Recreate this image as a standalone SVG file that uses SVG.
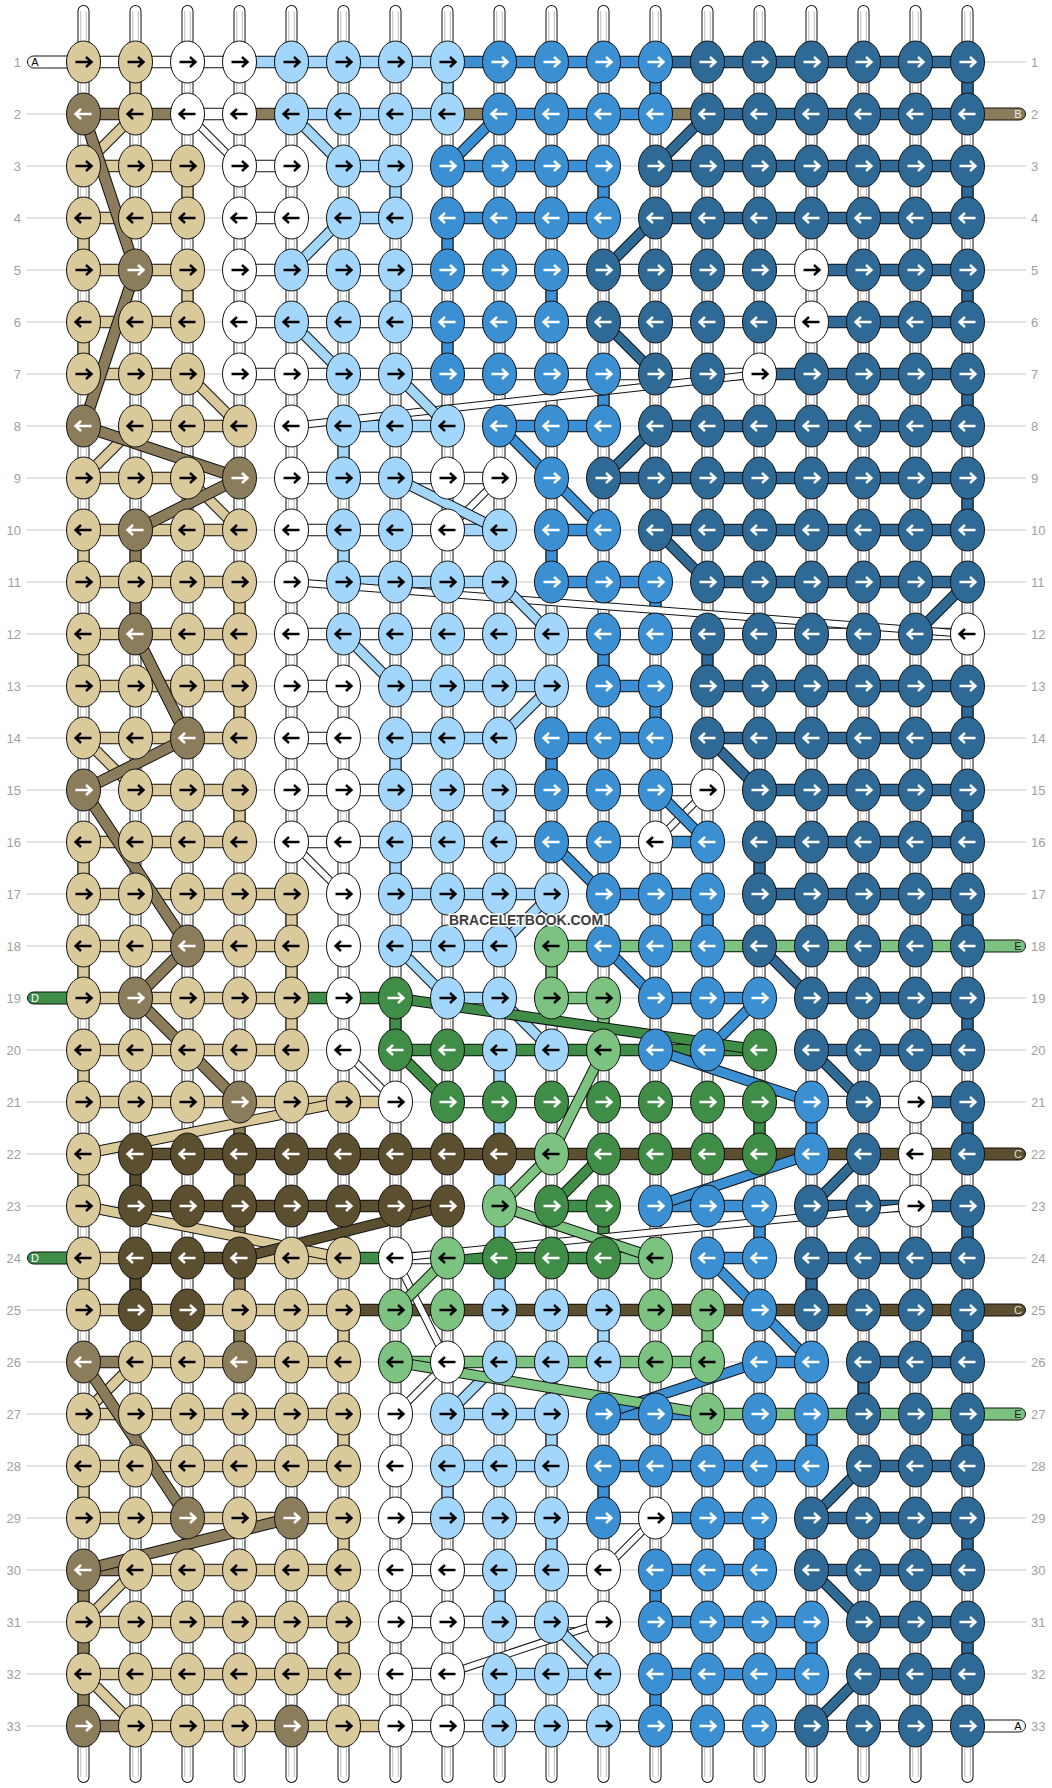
<svg xmlns="http://www.w3.org/2000/svg" xmlns:xlink="http://www.w3.org/1999/xlink" width="1052" height="1788" viewBox="0 0 1052 1788">
<style>
.n{font-family:"Liberation Sans",Arial,sans-serif;font-size:13px;fill:#a0a0a0}
.tl{font-family:"Liberation Sans",Arial,sans-serif;font-size:11px;text-anchor:middle}
ellipse{stroke:#111;stroke-width:1}
.o{fill:none;stroke:#111}
.c{fill:none}
.tail{stroke:#111;stroke-width:1}
</style>
<defs>
<path id="ar" d="M-8 0H7M2.5-5L8 0 2.5 5" fill="none" stroke-width="2.4"/>
<path id="al" d="M8 0H-7M-2.5-5L-8 0-2.5 5" fill="none" stroke-width="2.4"/>
<g id="Tr"><ellipse rx="17" ry="21" fill="#d9c99b"/><use href="#ar" stroke="#000"/></g>
<g id="Tl"><ellipse rx="17" ry="21" fill="#d9c99b"/><use href="#al" stroke="#000"/></g>
<g id="Kr"><ellipse rx="17" ry="21" fill="#8b7d5b"/><use href="#ar" stroke="#fff"/></g>
<g id="Kl"><ellipse rx="17" ry="21" fill="#8b7d5b"/><use href="#al" stroke="#fff"/></g>
<g id="Wr"><ellipse rx="17" ry="21" fill="#fff"/><use href="#ar" stroke="#000"/></g>
<g id="Wl"><ellipse rx="17" ry="21" fill="#fff"/><use href="#al" stroke="#000"/></g>
<g id="Lr"><ellipse rx="17" ry="21" fill="#a3d6fb"/><use href="#ar" stroke="#000"/></g>
<g id="Ll"><ellipse rx="17" ry="21" fill="#a3d6fb"/><use href="#al" stroke="#000"/></g>
<g id="Mr"><ellipse rx="17" ry="21" fill="#3b90d4"/><use href="#ar" stroke="#fff"/></g>
<g id="Ml"><ellipse rx="17" ry="21" fill="#3b90d4"/><use href="#al" stroke="#fff"/></g>
<g id="Dr"><ellipse rx="17" ry="21" fill="#2f6a96"/><use href="#ar" stroke="#fff"/></g>
<g id="Dl"><ellipse rx="17" ry="21" fill="#2f6a96"/><use href="#al" stroke="#fff"/></g>
<g id="Gr"><ellipse rx="17" ry="21" fill="#3f8d46"/><use href="#ar" stroke="#fff"/></g>
<g id="Gl"><ellipse rx="17" ry="21" fill="#3f8d46"/><use href="#al" stroke="#fff"/></g>
<g id="gr"><ellipse rx="17" ry="21" fill="#7cc280"/><use href="#ar" stroke="#000"/></g>
<g id="gl"><ellipse rx="17" ry="21" fill="#7cc280"/><use href="#al" stroke="#000"/></g>
<g id="Br"><ellipse rx="17" ry="21" fill="#5b4f30"/><use href="#ar" stroke="#fff"/></g>
<g id="Bl"><ellipse rx="17" ry="21" fill="#5b4f30"/><use href="#al" stroke="#fff"/></g>
<path id="hT" d="M83.5 166h104M83.5 218h104M83.5 270h104M83.5 322h104M83.5 374h104M135.5 426h104M83.5 478h104M83.5 530h156M83.5 582h156M83.5 634h156M83.5 686h156M83.5 738h156M135.5 790h104M83.5 842h156M83.5 894h208M83.5 946h208M83.5 998h208M83.5 1050h208M83.5 1102h312M83.5 1258h52M239.5 1258h104M83.5 1310h260M135.5 1362h208M83.5 1414h260M83.5 1466h260M83.5 1518h260M135.5 1570h208M83.5 1622h260M83.5 1674h260M135.5 1726h260"/>
<path id="hK" d="M83.5 114h104M239.5 114h52M447.5 114h52M655.5 114h52M83.5 1362h52M83.5 1570h52M83.5 1726h52"/>
<path id="hW" d="M83.5 62h156M187.5 114h52M239.5 166h52M239.5 218h52M239.5 270h572M239.5 322h572M239.5 374h520M291.5 478h208M291.5 530h156M291.5 634h676M291.5 686h52M291.5 738h52M291.5 790h416M291.5 842h364M447.5 1102h468M395.5 1258h52M395.5 1518h260M395.5 1570h208M395.5 1622h208M395.5 1674h52M395.5 1726h572"/>
<path id="hL" d="M239.5 62h208M291.5 114h156M343.5 166h52M343.5 218h52M343.5 426h104M447.5 530h52M343.5 582h156M395.5 686h156M395.5 738h104M395.5 894h156M395.5 946h104M447.5 998h52M447.5 1414h104M447.5 1466h104M499.5 1674h104"/>
<path id="hM" d="M447.5 62h208M499.5 114h156M447.5 166h156M447.5 218h156M499.5 426h104M551.5 530h52M551.5 582h104M603.5 686h52M551.5 738h104M655.5 842h52M603.5 894h104M655.5 998h104M655.5 1206h104M707.5 1258h52M759.5 1362h52M603.5 1414h104M603.5 1466h208M655.5 1518h104M655.5 1570h104M655.5 1622h156M655.5 1674h156"/>
<path id="hD" d="M655.5 62h312M707.5 114h260M655.5 166h312M655.5 218h312M811.5 270h156M811.5 322h156M759.5 374h208M655.5 426h312M603.5 478h364M655.5 530h312M707.5 582h260M707.5 686h260M707.5 738h260M759.5 790h208M759.5 842h208M759.5 894h208M811.5 998h156M811.5 1050h156M915.5 1102h52M811.5 1206h156M811.5 1258h156M863.5 1362h104M863.5 1466h104M811.5 1518h156M811.5 1570h156M863.5 1622h104M863.5 1674h104"/>
<path id="hG" d="M291.5 998h104M395.5 1050h364M551.5 1206h52M343.5 1258h52M447.5 1258h156"/>
<path id="hg" d="M551.5 946h416M551.5 998h52M603.5 1258h52M395.5 1362h312M707.5 1414h260"/>
<path id="hB" d="M135.5 1154h832M135.5 1206h312M135.5 1258h104M343.5 1310h624"/>
<path id="vT" d="M135.5 62v52M187.5 166v52M83.5 218v52M187.5 270v52M83.5 322v52M83.5 530v52M239.5 582v156M83.5 634v52M239.5 790v52M83.5 842v52M291.5 894v156M83.5 946v52M83.5 1050v52M83.5 1154v52M83.5 1258v52M343.5 1310v52M343.5 1414v52M83.5 1466v52M343.5 1518v52M343.5 1622v52"/>
<path id="vK" d="M135.5 530v104M239.5 1102v260M83.5 1570v156"/>
<path id="vL" d="M447.5 62v52M395.5 166v52M395.5 270v52M343.5 426v52M343.5 530v52M395.5 738v52M499.5 790v52M395.5 842v52M499.5 1050v260M603.5 1310v52M551.5 1414v52M447.5 1466v52M551.5 1518v52M499.5 1570v52M499.5 1674v52"/>
<path id="vM" d="M655.5 62v52M603.5 166v52M447.5 218v52M551.5 270v52M447.5 322v52M603.5 374v52M551.5 530v52M655.5 582v52M603.5 634v52M655.5 686v52M551.5 738v52M707.5 894v52M811.5 1102v52M759.5 1206v52M811.5 1414v52M603.5 1466v52M759.5 1518v52M655.5 1570v52M811.5 1622v52M655.5 1674v52"/>
<path id="vD" d="M967.5 62v52M967.5 166v52M967.5 270v52M967.5 374v52M967.5 478v52M967.5 686v52M967.5 790v52M967.5 894v52M967.5 998v52M967.5 1102v52M967.5 1206v52M967.5 1310v52M967.5 1414v52M967.5 1518v52M967.5 1622v52M707.5 634v52M759.5 842v52M811.5 1258v52M863.5 1362v52"/>
<path id="vG" d="M395.5 998v52M759.5 1102v52M603.5 1206v52"/>
<path id="vg" d="M551.5 946v52M603.5 998v52M707.5 1310v52"/>
<path id="vB" d="M135.5 1154v52M135.5 1258v52"/>
<path id="dK" d="M83.5 114L135.5 270L83.5 426L239.5 478L135.5 530M135.5 634L187.5 738L83.5 790L187.5 946L135.5 998L187.5 1050L239.5 1102M83.5 1362L187.5 1518M291.5 1518L83.5 1570"/>
<path id="dT" d="M135.5 114L83.5 166M187.5 374L239.5 426M135.5 426L83.5 478M187.5 478L239.5 530M83.5 738L135.5 790M343.5 1102L83.5 1154M83.5 1206L343.5 1258M135.5 1362L83.5 1414M135.5 1570L83.5 1622M83.5 1674L135.5 1726"/>
<path id="dW" d="M187.5 114L239.5 166M759.5 374L291.5 426M499.5 478L447.5 530M291.5 582L967.5 634M707.5 790L655.5 842M291.5 842L343.5 894M343.5 1050L395.5 1102M915.5 1206L395.5 1258M395.5 1258L447.5 1362M447.5 1362L395.5 1414M655.5 1518L603.5 1570M603.5 1622L447.5 1674"/>
<path id="dL" d="M291.5 114L343.5 166M343.5 218L291.5 270M291.5 322L343.5 374M395.5 374L447.5 426M395.5 478L499.5 530M499.5 582L551.5 634M343.5 634L395.5 686M551.5 686L499.5 738M551.5 894L499.5 946M395.5 946L447.5 998M499.5 998L551.5 1050M499.5 1362L447.5 1414M551.5 1622L603.5 1674"/>
<path id="dM" d="M499.5 114L447.5 166M499.5 426L551.5 478L603.5 530M655.5 790L707.5 842M551.5 842L603.5 894M603.5 946L655.5 998M759.5 998L707.5 1050M655.5 1050L811.5 1102M811.5 1154L655.5 1206M707.5 1258L759.5 1310L811.5 1362M759.5 1362L603.5 1414"/>
<path id="dD" d="M707.5 114L655.5 166M655.5 218L603.5 270M603.5 322L655.5 374M655.5 426L603.5 478M655.5 530L707.5 582M967.5 582L915.5 634M707.5 738L759.5 790M759.5 946L811.5 998M811.5 1050L863.5 1102M863.5 1154L811.5 1206M863.5 1466L811.5 1518M811.5 1570L863.5 1622M863.5 1674L811.5 1726"/>
<path id="dG" d="M395.5 998L759.5 1050M395.5 1050L447.5 1102M603.5 1154L551.5 1206"/>
<path id="dg" d="M603.5 1050L551.5 1154L499.5 1206L655.5 1258M447.5 1258L395.5 1310M395.5 1362L707.5 1414"/>
<path id="dB" d="M447.5 1206L239.5 1258"/>
</defs>
<rect width="1052" height="1788" fill="#fff"/>
<path stroke="#c4c4c4" stroke-width="1" d="M26 62H1026M26 114H1026M26 166H1026M26 218H1026M26 270H1026M26 322H1026M26 374H1026M26 426H1026M26 478H1026M26 530H1026M26 582H1026M26 634H1026M26 686H1026M26 738H1026M26 790H1026M26 842H1026M26 894H1026M26 946H1026M26 998H1026M26 1050H1026M26 1102H1026M26 1154H1026M26 1206H1026M26 1258H1026M26 1310H1026M26 1362H1026M26 1414H1026M26 1466H1026M26 1518H1026M26 1570H1026M26 1622H1026M26 1674H1026M26 1726H1026"/>
<g id="connectors">
<g id="base-strings" fill="none">
<path stroke="#111" stroke-width="12" stroke-linecap="round" d="M83.5 11V1777M135.5 11V1777M187.5 11V1777M239.5 11V1777M291.5 11V1777M343.5 11V1777M395.5 11V1777M447.5 11V1777M499.5 11V1777M551.5 11V1777M603.5 11V1777M655.5 11V1777M707.5 11V1777M759.5 11V1777M811.5 11V1777M863.5 11V1777M915.5 11V1777M967.5 11V1777"/>
<path stroke="#fff" stroke-width="10" stroke-linecap="round" d="M83.5 11V1777M135.5 11V1777M187.5 11V1777M239.5 11V1777M291.5 11V1777M343.5 11V1777M395.5 11V1777M447.5 11V1777M499.5 11V1777M551.5 11V1777M603.5 11V1777M655.5 11V1777M707.5 11V1777M759.5 11V1777M811.5 11V1777M863.5 11V1777M915.5 11V1777M967.5 11V1777"/>
<path stroke="#b5b5b5" stroke-width="0.9" d="M80.7 11V1777M86.3 11V1777M132.7 11V1777M138.3 11V1777M184.7 11V1777M190.3 11V1777M236.7 11V1777M242.3 11V1777M288.7 11V1777M294.3 11V1777M340.7 11V1777M346.3 11V1777M392.7 11V1777M398.3 11V1777M444.7 11V1777M450.3 11V1777M496.7 11V1777M502.3 11V1777M548.7 11V1777M554.3 11V1777M600.7 11V1777M606.3 11V1777M652.7 11V1777M658.3 11V1777M704.7 11V1777M710.3 11V1777M756.7 11V1777M762.3 11V1777M808.7 11V1777M814.3 11V1777M860.7 11V1777M866.3 11V1777M912.7 11V1777M918.3 11V1777M964.7 11V1777M970.3 11V1777"/>
</g>
<g id="tails">
<rect class="tail" x="27.5" y="56" width="60" height="12" rx="6" fill="#fff"/>
<rect class="tail" x="27.5" y="992" width="60" height="12" rx="6" fill="#3f8d46"/>
<rect class="tail" x="27.5" y="1252" width="60" height="12" rx="6" fill="#3f8d46"/>
<rect class="tail" x="964" y="108" width="61.5" height="12" rx="6" fill="#8b7d5b"/>
<rect class="tail" x="964" y="940" width="61.5" height="12" rx="6" fill="#7cc280"/>
<rect class="tail" x="964" y="1148" width="61.5" height="12" rx="6" fill="#5b4f30"/>
<rect class="tail" x="964" y="1304" width="61.5" height="12" rx="6" fill="#5b4f30"/>
<rect class="tail" x="964" y="1408" width="61.5" height="12" rx="6" fill="#7cc280"/>
<rect class="tail" x="964" y="1720" width="61.5" height="12" rx="6" fill="#fff"/>
</g>
<g id="bars" fill="none">
<g stroke="#111" stroke-width="12.5"><use href="#hT"/><use href="#hK"/><use href="#hW"/><use href="#hL"/><use href="#hM"/><use href="#hD"/><use href="#hG"/><use href="#hg"/><use href="#hB"/></g>
<g stroke-width="10.5"><use href="#hT" stroke="#d9c99b"/><use href="#hK" stroke="#8b7d5b"/><use href="#hW" stroke="#fff"/><use href="#hL" stroke="#a3d6fb"/><use href="#hM" stroke="#3b90d4"/><use href="#hD" stroke="#2f6a96"/><use href="#hG" stroke="#3f8d46"/><use href="#hg" stroke="#7cc280"/><use href="#hB" stroke="#5b4f30"/></g>
</g>
<g id="verticals" fill="none">
<g stroke="#111" stroke-width="12"><use href="#vT"/><use href="#vK"/><use href="#vL"/><use href="#vM"/><use href="#vD"/><use href="#vG"/><use href="#vg"/><use href="#vB"/></g>
<g stroke-width="10"><use href="#vT" stroke="#d9c99b"/><use href="#vK" stroke="#8b7d5b"/><use href="#vL" stroke="#a3d6fb"/><use href="#vM" stroke="#3b90d4"/><use href="#vD" stroke="#2f6a96"/><use href="#vG" stroke="#3f8d46"/><use href="#vg" stroke="#7cc280"/><use href="#vB" stroke="#5b4f30"/></g>
</g>
<g id="diagonals" fill="none" stroke-linejoin="round">
<use href="#dW" stroke="#111" stroke-width="8"/><use href="#dW" stroke="#fff" stroke-width="6"/>
<use href="#dT" stroke="#111" stroke-width="11"/><use href="#dT" stroke="#d9c99b" stroke-width="9"/>
<use href="#dL" stroke="#111" stroke-width="11"/><use href="#dL" stroke="#a3d6fb" stroke-width="9"/>
<use href="#dM" stroke="#111" stroke-width="11"/><use href="#dM" stroke="#3b90d4" stroke-width="9"/>
<use href="#dD" stroke="#111" stroke-width="11"/><use href="#dD" stroke="#2f6a96" stroke-width="9"/>
<use href="#dg" stroke="#111" stroke-width="11"/><use href="#dg" stroke="#7cc280" stroke-width="9"/>
<use href="#dG" stroke="#111" stroke-width="11"/><use href="#dG" stroke="#3f8d46" stroke-width="9"/>
<use href="#dB" stroke="#111" stroke-width="11"/><use href="#dB" stroke="#5b4f30" stroke-width="9"/>
<use href="#dK" stroke="#111" stroke-width="12"/><use href="#dK" stroke="#8b7d5b" stroke-width="10"/>
</g>
</g>
<g id="knots">
<g transform="translate(0 62)"><g id="k1-1"><use href="#Tr" x="83.5"/></g><g id="k1-2"><use href="#Tr" x="135.5"/></g><g id="k1-3"><use href="#Wr" x="187.5"/></g><g id="k1-4"><use href="#Wr" x="239.5"/></g><g id="k1-5"><use href="#Lr" x="291.5"/></g><g id="k1-6"><use href="#Lr" x="343.5"/></g><g id="k1-7"><use href="#Lr" x="395.5"/></g><g id="k1-8"><use href="#Lr" x="447.5"/></g><g id="k1-9"><use href="#Mr" x="499.5"/></g><g id="k1-10"><use href="#Mr" x="551.5"/></g><g id="k1-11"><use href="#Mr" x="603.5"/></g><g id="k1-12"><use href="#Mr" x="655.5"/></g><g id="k1-13"><use href="#Dr" x="707.5"/></g><g id="k1-14"><use href="#Dr" x="759.5"/></g><g id="k1-15"><use href="#Dr" x="811.5"/></g><g id="k1-16"><use href="#Dr" x="863.5"/></g><g id="k1-17"><use href="#Dr" x="915.5"/></g><g id="k1-18"><use href="#Dr" x="967.5"/></g></g>
<g transform="translate(0 114)"><g id="k2-1"><use href="#Kl" x="83.5"/></g><g id="k2-2"><use href="#Tl" x="135.5"/></g><g id="k2-3"><use href="#Wl" x="187.5"/></g><g id="k2-4"><use href="#Wl" x="239.5"/></g><g id="k2-5"><use href="#Ll" x="291.5"/></g><g id="k2-6"><use href="#Ll" x="343.5"/></g><g id="k2-7"><use href="#Ll" x="395.5"/></g><g id="k2-8"><use href="#Ll" x="447.5"/></g><g id="k2-9"><use href="#Ml" x="499.5"/></g><g id="k2-10"><use href="#Ml" x="551.5"/></g><g id="k2-11"><use href="#Ml" x="603.5"/></g><g id="k2-12"><use href="#Ml" x="655.5"/></g><g id="k2-13"><use href="#Dl" x="707.5"/></g><g id="k2-14"><use href="#Dl" x="759.5"/></g><g id="k2-15"><use href="#Dl" x="811.5"/></g><g id="k2-16"><use href="#Dl" x="863.5"/></g><g id="k2-17"><use href="#Dl" x="915.5"/></g><g id="k2-18"><use href="#Dl" x="967.5"/></g></g>
<g transform="translate(0 166)"><g id="k3-1"><use href="#Tr" x="83.5"/></g><g id="k3-2"><use href="#Tr" x="135.5"/></g><g id="k3-3"><use href="#Tr" x="187.5"/></g><g id="k3-4"><use href="#Wr" x="239.5"/></g><g id="k3-5"><use href="#Wr" x="291.5"/></g><g id="k3-6"><use href="#Lr" x="343.5"/></g><g id="k3-7"><use href="#Lr" x="395.5"/></g><g id="k3-8"><use href="#Mr" x="447.5"/></g><g id="k3-9"><use href="#Mr" x="499.5"/></g><g id="k3-10"><use href="#Mr" x="551.5"/></g><g id="k3-11"><use href="#Mr" x="603.5"/></g><g id="k3-12"><use href="#Dr" x="655.5"/></g><g id="k3-13"><use href="#Dr" x="707.5"/></g><g id="k3-14"><use href="#Dr" x="759.5"/></g><g id="k3-15"><use href="#Dr" x="811.5"/></g><g id="k3-16"><use href="#Dr" x="863.5"/></g><g id="k3-17"><use href="#Dr" x="915.5"/></g><g id="k3-18"><use href="#Dr" x="967.5"/></g></g>
<g transform="translate(0 218)"><g id="k4-1"><use href="#Tl" x="83.5"/></g><g id="k4-2"><use href="#Tl" x="135.5"/></g><g id="k4-3"><use href="#Tl" x="187.5"/></g><g id="k4-4"><use href="#Wl" x="239.5"/></g><g id="k4-5"><use href="#Wl" x="291.5"/></g><g id="k4-6"><use href="#Ll" x="343.5"/></g><g id="k4-7"><use href="#Ll" x="395.5"/></g><g id="k4-8"><use href="#Ml" x="447.5"/></g><g id="k4-9"><use href="#Ml" x="499.5"/></g><g id="k4-10"><use href="#Ml" x="551.5"/></g><g id="k4-11"><use href="#Ml" x="603.5"/></g><g id="k4-12"><use href="#Dl" x="655.5"/></g><g id="k4-13"><use href="#Dl" x="707.5"/></g><g id="k4-14"><use href="#Dl" x="759.5"/></g><g id="k4-15"><use href="#Dl" x="811.5"/></g><g id="k4-16"><use href="#Dl" x="863.5"/></g><g id="k4-17"><use href="#Dl" x="915.5"/></g><g id="k4-18"><use href="#Dl" x="967.5"/></g></g>
<g transform="translate(0 270)"><g id="k5-1"><use href="#Tr" x="83.5"/></g><g id="k5-2"><use href="#Kr" x="135.5"/></g><g id="k5-3"><use href="#Tr" x="187.5"/></g><g id="k5-4"><use href="#Wr" x="239.5"/></g><g id="k5-5"><use href="#Lr" x="291.5"/></g><g id="k5-6"><use href="#Lr" x="343.5"/></g><g id="k5-7"><use href="#Lr" x="395.5"/></g><g id="k5-8"><use href="#Mr" x="447.5"/></g><g id="k5-9"><use href="#Mr" x="499.5"/></g><g id="k5-10"><use href="#Mr" x="551.5"/></g><g id="k5-11"><use href="#Dr" x="603.5"/></g><g id="k5-12"><use href="#Dr" x="655.5"/></g><g id="k5-13"><use href="#Dr" x="707.5"/></g><g id="k5-14"><use href="#Dr" x="759.5"/></g><g id="k5-15"><use href="#Wr" x="811.5"/></g><g id="k5-16"><use href="#Dr" x="863.5"/></g><g id="k5-17"><use href="#Dr" x="915.5"/></g><g id="k5-18"><use href="#Dr" x="967.5"/></g></g>
<g transform="translate(0 322)"><g id="k6-1"><use href="#Tl" x="83.5"/></g><g id="k6-2"><use href="#Tl" x="135.5"/></g><g id="k6-3"><use href="#Tl" x="187.5"/></g><g id="k6-4"><use href="#Wl" x="239.5"/></g><g id="k6-5"><use href="#Ll" x="291.5"/></g><g id="k6-6"><use href="#Ll" x="343.5"/></g><g id="k6-7"><use href="#Ll" x="395.5"/></g><g id="k6-8"><use href="#Ml" x="447.5"/></g><g id="k6-9"><use href="#Ml" x="499.5"/></g><g id="k6-10"><use href="#Ml" x="551.5"/></g><g id="k6-11"><use href="#Dl" x="603.5"/></g><g id="k6-12"><use href="#Dl" x="655.5"/></g><g id="k6-13"><use href="#Dl" x="707.5"/></g><g id="k6-14"><use href="#Dl" x="759.5"/></g><g id="k6-15"><use href="#Wl" x="811.5"/></g><g id="k6-16"><use href="#Dl" x="863.5"/></g><g id="k6-17"><use href="#Dl" x="915.5"/></g><g id="k6-18"><use href="#Dl" x="967.5"/></g></g>
<g transform="translate(0 374)"><g id="k7-1"><use href="#Tr" x="83.5"/></g><g id="k7-2"><use href="#Tr" x="135.5"/></g><g id="k7-3"><use href="#Tr" x="187.5"/></g><g id="k7-4"><use href="#Wr" x="239.5"/></g><g id="k7-5"><use href="#Wr" x="291.5"/></g><g id="k7-6"><use href="#Lr" x="343.5"/></g><g id="k7-7"><use href="#Lr" x="395.5"/></g><g id="k7-8"><use href="#Mr" x="447.5"/></g><g id="k7-9"><use href="#Mr" x="499.5"/></g><g id="k7-10"><use href="#Mr" x="551.5"/></g><g id="k7-11"><use href="#Mr" x="603.5"/></g><g id="k7-12"><use href="#Dr" x="655.5"/></g><g id="k7-13"><use href="#Dr" x="707.5"/></g><g id="k7-14"><use href="#Wr" x="759.5"/></g><g id="k7-15"><use href="#Dr" x="811.5"/></g><g id="k7-16"><use href="#Dr" x="863.5"/></g><g id="k7-17"><use href="#Dr" x="915.5"/></g><g id="k7-18"><use href="#Dr" x="967.5"/></g></g>
<g transform="translate(0 426)"><g id="k8-1"><use href="#Kl" x="83.5"/></g><g id="k8-2"><use href="#Tl" x="135.5"/></g><g id="k8-3"><use href="#Tl" x="187.5"/></g><g id="k8-4"><use href="#Tl" x="239.5"/></g><g id="k8-5"><use href="#Wl" x="291.5"/></g><g id="k8-6"><use href="#Ll" x="343.5"/></g><g id="k8-7"><use href="#Ll" x="395.5"/></g><g id="k8-8"><use href="#Ll" x="447.5"/></g><g id="k8-9"><use href="#Ml" x="499.5"/></g><g id="k8-10"><use href="#Ml" x="551.5"/></g><g id="k8-11"><use href="#Ml" x="603.5"/></g><g id="k8-12"><use href="#Dl" x="655.5"/></g><g id="k8-13"><use href="#Dl" x="707.5"/></g><g id="k8-14"><use href="#Dl" x="759.5"/></g><g id="k8-15"><use href="#Dl" x="811.5"/></g><g id="k8-16"><use href="#Dl" x="863.5"/></g><g id="k8-17"><use href="#Dl" x="915.5"/></g><g id="k8-18"><use href="#Dl" x="967.5"/></g></g>
<g transform="translate(0 478)"><g id="k9-1"><use href="#Tr" x="83.5"/></g><g id="k9-2"><use href="#Tr" x="135.5"/></g><g id="k9-3"><use href="#Tr" x="187.5"/></g><g id="k9-4"><use href="#Kr" x="239.5"/></g><g id="k9-5"><use href="#Wr" x="291.5"/></g><g id="k9-6"><use href="#Lr" x="343.5"/></g><g id="k9-7"><use href="#Lr" x="395.5"/></g><g id="k9-8"><use href="#Wr" x="447.5"/></g><g id="k9-9"><use href="#Wr" x="499.5"/></g><g id="k9-10"><use href="#Mr" x="551.5"/></g><g id="k9-11"><use href="#Dr" x="603.5"/></g><g id="k9-12"><use href="#Dr" x="655.5"/></g><g id="k9-13"><use href="#Dr" x="707.5"/></g><g id="k9-14"><use href="#Dr" x="759.5"/></g><g id="k9-15"><use href="#Dr" x="811.5"/></g><g id="k9-16"><use href="#Dr" x="863.5"/></g><g id="k9-17"><use href="#Dr" x="915.5"/></g><g id="k9-18"><use href="#Dr" x="967.5"/></g></g>
<g transform="translate(0 530)"><g id="k10-1"><use href="#Tl" x="83.5"/></g><g id="k10-2"><use href="#Kl" x="135.5"/></g><g id="k10-3"><use href="#Tl" x="187.5"/></g><g id="k10-4"><use href="#Tl" x="239.5"/></g><g id="k10-5"><use href="#Wl" x="291.5"/></g><g id="k10-6"><use href="#Ll" x="343.5"/></g><g id="k10-7"><use href="#Ll" x="395.5"/></g><g id="k10-8"><use href="#Wl" x="447.5"/></g><g id="k10-9"><use href="#Ll" x="499.5"/></g><g id="k10-10"><use href="#Ml" x="551.5"/></g><g id="k10-11"><use href="#Ml" x="603.5"/></g><g id="k10-12"><use href="#Dl" x="655.5"/></g><g id="k10-13"><use href="#Dl" x="707.5"/></g><g id="k10-14"><use href="#Dl" x="759.5"/></g><g id="k10-15"><use href="#Dl" x="811.5"/></g><g id="k10-16"><use href="#Dl" x="863.5"/></g><g id="k10-17"><use href="#Dl" x="915.5"/></g><g id="k10-18"><use href="#Dl" x="967.5"/></g></g>
<g transform="translate(0 582)"><g id="k11-1"><use href="#Tr" x="83.5"/></g><g id="k11-2"><use href="#Tr" x="135.5"/></g><g id="k11-3"><use href="#Tr" x="187.5"/></g><g id="k11-4"><use href="#Tr" x="239.5"/></g><g id="k11-5"><use href="#Wr" x="291.5"/></g><g id="k11-6"><use href="#Lr" x="343.5"/></g><g id="k11-7"><use href="#Lr" x="395.5"/></g><g id="k11-8"><use href="#Lr" x="447.5"/></g><g id="k11-9"><use href="#Lr" x="499.5"/></g><g id="k11-10"><use href="#Mr" x="551.5"/></g><g id="k11-11"><use href="#Mr" x="603.5"/></g><g id="k11-12"><use href="#Mr" x="655.5"/></g><g id="k11-13"><use href="#Dr" x="707.5"/></g><g id="k11-14"><use href="#Dr" x="759.5"/></g><g id="k11-15"><use href="#Dr" x="811.5"/></g><g id="k11-16"><use href="#Dr" x="863.5"/></g><g id="k11-17"><use href="#Dr" x="915.5"/></g><g id="k11-18"><use href="#Dr" x="967.5"/></g></g>
<g transform="translate(0 634)"><g id="k12-1"><use href="#Tl" x="83.5"/></g><g id="k12-2"><use href="#Kl" x="135.5"/></g><g id="k12-3"><use href="#Tl" x="187.5"/></g><g id="k12-4"><use href="#Tl" x="239.5"/></g><g id="k12-5"><use href="#Wl" x="291.5"/></g><g id="k12-6"><use href="#Ll" x="343.5"/></g><g id="k12-7"><use href="#Ll" x="395.5"/></g><g id="k12-8"><use href="#Ll" x="447.5"/></g><g id="k12-9"><use href="#Ll" x="499.5"/></g><g id="k12-10"><use href="#Ll" x="551.5"/></g><g id="k12-11"><use href="#Ml" x="603.5"/></g><g id="k12-12"><use href="#Ml" x="655.5"/></g><g id="k12-13"><use href="#Dl" x="707.5"/></g><g id="k12-14"><use href="#Dl" x="759.5"/></g><g id="k12-15"><use href="#Dl" x="811.5"/></g><g id="k12-16"><use href="#Dl" x="863.5"/></g><g id="k12-17"><use href="#Dl" x="915.5"/></g><g id="k12-18"><use href="#Wl" x="967.5"/></g></g>
<g transform="translate(0 686)"><g id="k13-1"><use href="#Tr" x="83.5"/></g><g id="k13-2"><use href="#Tr" x="135.5"/></g><g id="k13-3"><use href="#Tr" x="187.5"/></g><g id="k13-4"><use href="#Tr" x="239.5"/></g><g id="k13-5"><use href="#Wr" x="291.5"/></g><g id="k13-6"><use href="#Wr" x="343.5"/></g><g id="k13-7"><use href="#Lr" x="395.5"/></g><g id="k13-8"><use href="#Lr" x="447.5"/></g><g id="k13-9"><use href="#Lr" x="499.5"/></g><g id="k13-10"><use href="#Lr" x="551.5"/></g><g id="k13-11"><use href="#Mr" x="603.5"/></g><g id="k13-12"><use href="#Mr" x="655.5"/></g><g id="k13-13"><use href="#Dr" x="707.5"/></g><g id="k13-14"><use href="#Dr" x="759.5"/></g><g id="k13-15"><use href="#Dr" x="811.5"/></g><g id="k13-16"><use href="#Dr" x="863.5"/></g><g id="k13-17"><use href="#Dr" x="915.5"/></g><g id="k13-18"><use href="#Dr" x="967.5"/></g></g>
<g transform="translate(0 738)"><g id="k14-1"><use href="#Tl" x="83.5"/></g><g id="k14-2"><use href="#Tl" x="135.5"/></g><g id="k14-3"><use href="#Kl" x="187.5"/></g><g id="k14-4"><use href="#Tl" x="239.5"/></g><g id="k14-5"><use href="#Wl" x="291.5"/></g><g id="k14-6"><use href="#Wl" x="343.5"/></g><g id="k14-7"><use href="#Ll" x="395.5"/></g><g id="k14-8"><use href="#Ll" x="447.5"/></g><g id="k14-9"><use href="#Ll" x="499.5"/></g><g id="k14-10"><use href="#Ml" x="551.5"/></g><g id="k14-11"><use href="#Ml" x="603.5"/></g><g id="k14-12"><use href="#Ml" x="655.5"/></g><g id="k14-13"><use href="#Dl" x="707.5"/></g><g id="k14-14"><use href="#Dl" x="759.5"/></g><g id="k14-15"><use href="#Dl" x="811.5"/></g><g id="k14-16"><use href="#Dl" x="863.5"/></g><g id="k14-17"><use href="#Dl" x="915.5"/></g><g id="k14-18"><use href="#Dl" x="967.5"/></g></g>
<g transform="translate(0 790)"><g id="k15-1"><use href="#Kr" x="83.5"/></g><g id="k15-2"><use href="#Tr" x="135.5"/></g><g id="k15-3"><use href="#Tr" x="187.5"/></g><g id="k15-4"><use href="#Tr" x="239.5"/></g><g id="k15-5"><use href="#Wr" x="291.5"/></g><g id="k15-6"><use href="#Wr" x="343.5"/></g><g id="k15-7"><use href="#Lr" x="395.5"/></g><g id="k15-8"><use href="#Lr" x="447.5"/></g><g id="k15-9"><use href="#Lr" x="499.5"/></g><g id="k15-10"><use href="#Mr" x="551.5"/></g><g id="k15-11"><use href="#Mr" x="603.5"/></g><g id="k15-12"><use href="#Mr" x="655.5"/></g><g id="k15-13"><use href="#Wr" x="707.5"/></g><g id="k15-14"><use href="#Dr" x="759.5"/></g><g id="k15-15"><use href="#Dr" x="811.5"/></g><g id="k15-16"><use href="#Dr" x="863.5"/></g><g id="k15-17"><use href="#Dr" x="915.5"/></g><g id="k15-18"><use href="#Dr" x="967.5"/></g></g>
<g transform="translate(0 842)"><g id="k16-1"><use href="#Tl" x="83.5"/></g><g id="k16-2"><use href="#Tl" x="135.5"/></g><g id="k16-3"><use href="#Tl" x="187.5"/></g><g id="k16-4"><use href="#Tl" x="239.5"/></g><g id="k16-5"><use href="#Wl" x="291.5"/></g><g id="k16-6"><use href="#Wl" x="343.5"/></g><g id="k16-7"><use href="#Ll" x="395.5"/></g><g id="k16-8"><use href="#Ll" x="447.5"/></g><g id="k16-9"><use href="#Ll" x="499.5"/></g><g id="k16-10"><use href="#Ml" x="551.5"/></g><g id="k16-11"><use href="#Ml" x="603.5"/></g><g id="k16-12"><use href="#Wl" x="655.5"/></g><g id="k16-13"><use href="#Ml" x="707.5"/></g><g id="k16-14"><use href="#Dl" x="759.5"/></g><g id="k16-15"><use href="#Dl" x="811.5"/></g><g id="k16-16"><use href="#Dl" x="863.5"/></g><g id="k16-17"><use href="#Dl" x="915.5"/></g><g id="k16-18"><use href="#Dl" x="967.5"/></g></g>
<g transform="translate(0 894)"><g id="k17-1"><use href="#Tr" x="83.5"/></g><g id="k17-2"><use href="#Tr" x="135.5"/></g><g id="k17-3"><use href="#Tr" x="187.5"/></g><g id="k17-4"><use href="#Tr" x="239.5"/></g><g id="k17-5"><use href="#Tr" x="291.5"/></g><g id="k17-6"><use href="#Wr" x="343.5"/></g><g id="k17-7"><use href="#Lr" x="395.5"/></g><g id="k17-8"><use href="#Lr" x="447.5"/></g><g id="k17-9"><use href="#Lr" x="499.5"/></g><g id="k17-10"><use href="#Lr" x="551.5"/></g><g id="k17-11"><use href="#Mr" x="603.5"/></g><g id="k17-12"><use href="#Mr" x="655.5"/></g><g id="k17-13"><use href="#Mr" x="707.5"/></g><g id="k17-14"><use href="#Dr" x="759.5"/></g><g id="k17-15"><use href="#Dr" x="811.5"/></g><g id="k17-16"><use href="#Dr" x="863.5"/></g><g id="k17-17"><use href="#Dr" x="915.5"/></g><g id="k17-18"><use href="#Dr" x="967.5"/></g></g>
<g transform="translate(0 946)"><g id="k18-1"><use href="#Tl" x="83.5"/></g><g id="k18-2"><use href="#Tl" x="135.5"/></g><g id="k18-3"><use href="#Kl" x="187.5"/></g><g id="k18-4"><use href="#Tl" x="239.5"/></g><g id="k18-5"><use href="#Tl" x="291.5"/></g><g id="k18-6"><use href="#Wl" x="343.5"/></g><g id="k18-7"><use href="#Ll" x="395.5"/></g><g id="k18-8"><use href="#Ll" x="447.5"/></g><g id="k18-9"><use href="#Ll" x="499.5"/></g><g id="k18-10"><use href="#gl" x="551.5"/></g><g id="k18-11"><use href="#Ml" x="603.5"/></g><g id="k18-12"><use href="#Ml" x="655.5"/></g><g id="k18-13"><use href="#Ml" x="707.5"/></g><g id="k18-14"><use href="#Dl" x="759.5"/></g><g id="k18-15"><use href="#Dl" x="811.5"/></g><g id="k18-16"><use href="#Dl" x="863.5"/></g><g id="k18-17"><use href="#Dl" x="915.5"/></g><g id="k18-18"><use href="#Dl" x="967.5"/></g></g>
<g transform="translate(0 998)"><g id="k19-1"><use href="#Tr" x="83.5"/></g><g id="k19-2"><use href="#Kr" x="135.5"/></g><g id="k19-3"><use href="#Tr" x="187.5"/></g><g id="k19-4"><use href="#Tr" x="239.5"/></g><g id="k19-5"><use href="#Tr" x="291.5"/></g><g id="k19-6"><use href="#Wr" x="343.5"/></g><g id="k19-7"><use href="#Gr" x="395.5"/></g><g id="k19-8"><use href="#Lr" x="447.5"/></g><g id="k19-9"><use href="#Lr" x="499.5"/></g><g id="k19-10"><use href="#gr" x="551.5"/></g><g id="k19-11"><use href="#gr" x="603.5"/></g><g id="k19-12"><use href="#Mr" x="655.5"/></g><g id="k19-13"><use href="#Mr" x="707.5"/></g><g id="k19-14"><use href="#Mr" x="759.5"/></g><g id="k19-15"><use href="#Dr" x="811.5"/></g><g id="k19-16"><use href="#Dr" x="863.5"/></g><g id="k19-17"><use href="#Dr" x="915.5"/></g><g id="k19-18"><use href="#Dr" x="967.5"/></g></g>
<g transform="translate(0 1050)"><g id="k20-1"><use href="#Tl" x="83.5"/></g><g id="k20-2"><use href="#Tl" x="135.5"/></g><g id="k20-3"><use href="#Tl" x="187.5"/></g><g id="k20-4"><use href="#Tl" x="239.5"/></g><g id="k20-5"><use href="#Tl" x="291.5"/></g><g id="k20-6"><use href="#Wl" x="343.5"/></g><g id="k20-7"><use href="#Gl" x="395.5"/></g><g id="k20-8"><use href="#Gl" x="447.5"/></g><g id="k20-9"><use href="#Ll" x="499.5"/></g><g id="k20-10"><use href="#Ll" x="551.5"/></g><g id="k20-11"><use href="#gl" x="603.5"/></g><g id="k20-12"><use href="#Ml" x="655.5"/></g><g id="k20-13"><use href="#Ml" x="707.5"/></g><g id="k20-14"><use href="#Gl" x="759.5"/></g><g id="k20-15"><use href="#Dl" x="811.5"/></g><g id="k20-16"><use href="#Dl" x="863.5"/></g><g id="k20-17"><use href="#Dl" x="915.5"/></g><g id="k20-18"><use href="#Dl" x="967.5"/></g></g>
<g transform="translate(0 1102)"><g id="k21-1"><use href="#Tr" x="83.5"/></g><g id="k21-2"><use href="#Tr" x="135.5"/></g><g id="k21-3"><use href="#Tr" x="187.5"/></g><g id="k21-4"><use href="#Kr" x="239.5"/></g><g id="k21-5"><use href="#Tr" x="291.5"/></g><g id="k21-6"><use href="#Tr" x="343.5"/></g><g id="k21-7"><use href="#Wr" x="395.5"/></g><g id="k21-8"><use href="#Gr" x="447.5"/></g><g id="k21-9"><use href="#Gr" x="499.5"/></g><g id="k21-10"><use href="#Gr" x="551.5"/></g><g id="k21-11"><use href="#Gr" x="603.5"/></g><g id="k21-12"><use href="#Gr" x="655.5"/></g><g id="k21-13"><use href="#Gr" x="707.5"/></g><g id="k21-14"><use href="#Gr" x="759.5"/></g><g id="k21-15"><use href="#Mr" x="811.5"/></g><g id="k21-16"><use href="#Dr" x="863.5"/></g><g id="k21-17"><use href="#Wr" x="915.5"/></g><g id="k21-18"><use href="#Dr" x="967.5"/></g></g>
<g transform="translate(0 1154)"><g id="k22-1"><use href="#Tl" x="83.5"/></g><g id="k22-2"><use href="#Bl" x="135.5"/></g><g id="k22-3"><use href="#Bl" x="187.5"/></g><g id="k22-4"><use href="#Bl" x="239.5"/></g><g id="k22-5"><use href="#Bl" x="291.5"/></g><g id="k22-6"><use href="#Bl" x="343.5"/></g><g id="k22-7"><use href="#Bl" x="395.5"/></g><g id="k22-8"><use href="#Bl" x="447.5"/></g><g id="k22-9"><use href="#Bl" x="499.5"/></g><g id="k22-10"><use href="#gl" x="551.5"/></g><g id="k22-11"><use href="#Gl" x="603.5"/></g><g id="k22-12"><use href="#Gl" x="655.5"/></g><g id="k22-13"><use href="#Gl" x="707.5"/></g><g id="k22-14"><use href="#Gl" x="759.5"/></g><g id="k22-15"><use href="#Ml" x="811.5"/></g><g id="k22-16"><use href="#Dl" x="863.5"/></g><g id="k22-17"><use href="#Wl" x="915.5"/></g><g id="k22-18"><use href="#Dl" x="967.5"/></g></g>
<g transform="translate(0 1206)"><g id="k23-1"><use href="#Tr" x="83.5"/></g><g id="k23-2"><use href="#Br" x="135.5"/></g><g id="k23-3"><use href="#Br" x="187.5"/></g><g id="k23-4"><use href="#Br" x="239.5"/></g><g id="k23-5"><use href="#Br" x="291.5"/></g><g id="k23-6"><use href="#Br" x="343.5"/></g><g id="k23-7"><use href="#Br" x="395.5"/></g><g id="k23-8"><use href="#Br" x="447.5"/></g><g id="k23-9"><use href="#gr" x="499.5"/></g><g id="k23-10"><use href="#Gr" x="551.5"/></g><g id="k23-11"><use href="#Gr" x="603.5"/></g><g id="k23-12"><use href="#Mr" x="655.5"/></g><g id="k23-13"><use href="#Mr" x="707.5"/></g><g id="k23-14"><use href="#Mr" x="759.5"/></g><g id="k23-15"><use href="#Dr" x="811.5"/></g><g id="k23-16"><use href="#Dr" x="863.5"/></g><g id="k23-17"><use href="#Wr" x="915.5"/></g><g id="k23-18"><use href="#Dr" x="967.5"/></g></g>
<g transform="translate(0 1258)"><g id="k24-1"><use href="#Tl" x="83.5"/></g><g id="k24-2"><use href="#Bl" x="135.5"/></g><g id="k24-3"><use href="#Bl" x="187.5"/></g><g id="k24-4"><use href="#Bl" x="239.5"/></g><g id="k24-5"><use href="#Tl" x="291.5"/></g><g id="k24-6"><use href="#Tl" x="343.5"/></g><g id="k24-7"><use href="#Wl" x="395.5"/></g><g id="k24-8"><use href="#gl" x="447.5"/></g><g id="k24-9"><use href="#Gl" x="499.5"/></g><g id="k24-10"><use href="#Gl" x="551.5"/></g><g id="k24-11"><use href="#Gl" x="603.5"/></g><g id="k24-12"><use href="#gl" x="655.5"/></g><g id="k24-13"><use href="#Ml" x="707.5"/></g><g id="k24-14"><use href="#Ml" x="759.5"/></g><g id="k24-15"><use href="#Dl" x="811.5"/></g><g id="k24-16"><use href="#Dl" x="863.5"/></g><g id="k24-17"><use href="#Dl" x="915.5"/></g><g id="k24-18"><use href="#Dl" x="967.5"/></g></g>
<g transform="translate(0 1310)"><g id="k25-1"><use href="#Tr" x="83.5"/></g><g id="k25-2"><use href="#Br" x="135.5"/></g><g id="k25-3"><use href="#Br" x="187.5"/></g><g id="k25-4"><use href="#Tr" x="239.5"/></g><g id="k25-5"><use href="#Tr" x="291.5"/></g><g id="k25-6"><use href="#Tr" x="343.5"/></g><g id="k25-7"><use href="#gr" x="395.5"/></g><g id="k25-8"><use href="#gr" x="447.5"/></g><g id="k25-9"><use href="#Lr" x="499.5"/></g><g id="k25-10"><use href="#Lr" x="551.5"/></g><g id="k25-11"><use href="#Lr" x="603.5"/></g><g id="k25-12"><use href="#gr" x="655.5"/></g><g id="k25-13"><use href="#gr" x="707.5"/></g><g id="k25-14"><use href="#Mr" x="759.5"/></g><g id="k25-15"><use href="#Dr" x="811.5"/></g><g id="k25-16"><use href="#Dr" x="863.5"/></g><g id="k25-17"><use href="#Dr" x="915.5"/></g><g id="k25-18"><use href="#Dr" x="967.5"/></g></g>
<g transform="translate(0 1362)"><g id="k26-1"><use href="#Kl" x="83.5"/></g><g id="k26-2"><use href="#Tl" x="135.5"/></g><g id="k26-3"><use href="#Tl" x="187.5"/></g><g id="k26-4"><use href="#Kl" x="239.5"/></g><g id="k26-5"><use href="#Tl" x="291.5"/></g><g id="k26-6"><use href="#Tl" x="343.5"/></g><g id="k26-7"><use href="#gl" x="395.5"/></g><g id="k26-8"><use href="#Wl" x="447.5"/></g><g id="k26-9"><use href="#Ll" x="499.5"/></g><g id="k26-10"><use href="#Ll" x="551.5"/></g><g id="k26-11"><use href="#Ll" x="603.5"/></g><g id="k26-12"><use href="#gl" x="655.5"/></g><g id="k26-13"><use href="#gl" x="707.5"/></g><g id="k26-14"><use href="#Ml" x="759.5"/></g><g id="k26-15"><use href="#Ml" x="811.5"/></g><g id="k26-16"><use href="#Dl" x="863.5"/></g><g id="k26-17"><use href="#Dl" x="915.5"/></g><g id="k26-18"><use href="#Dl" x="967.5"/></g></g>
<g transform="translate(0 1414)"><g id="k27-1"><use href="#Tr" x="83.5"/></g><g id="k27-2"><use href="#Tr" x="135.5"/></g><g id="k27-3"><use href="#Tr" x="187.5"/></g><g id="k27-4"><use href="#Tr" x="239.5"/></g><g id="k27-5"><use href="#Tr" x="291.5"/></g><g id="k27-6"><use href="#Tr" x="343.5"/></g><g id="k27-7"><use href="#Wr" x="395.5"/></g><g id="k27-8"><use href="#Lr" x="447.5"/></g><g id="k27-9"><use href="#Lr" x="499.5"/></g><g id="k27-10"><use href="#Lr" x="551.5"/></g><g id="k27-11"><use href="#Mr" x="603.5"/></g><g id="k27-12"><use href="#Mr" x="655.5"/></g><g id="k27-13"><use href="#gr" x="707.5"/></g><g id="k27-14"><use href="#Mr" x="759.5"/></g><g id="k27-15"><use href="#Mr" x="811.5"/></g><g id="k27-16"><use href="#Dr" x="863.5"/></g><g id="k27-17"><use href="#Dr" x="915.5"/></g><g id="k27-18"><use href="#Dr" x="967.5"/></g></g>
<g transform="translate(0 1466)"><g id="k28-1"><use href="#Tl" x="83.5"/></g><g id="k28-2"><use href="#Tl" x="135.5"/></g><g id="k28-3"><use href="#Tl" x="187.5"/></g><g id="k28-4"><use href="#Tl" x="239.5"/></g><g id="k28-5"><use href="#Tl" x="291.5"/></g><g id="k28-6"><use href="#Tl" x="343.5"/></g><g id="k28-7"><use href="#Wl" x="395.5"/></g><g id="k28-8"><use href="#Ll" x="447.5"/></g><g id="k28-9"><use href="#Ll" x="499.5"/></g><g id="k28-10"><use href="#Ll" x="551.5"/></g><g id="k28-11"><use href="#Ml" x="603.5"/></g><g id="k28-12"><use href="#Ml" x="655.5"/></g><g id="k28-13"><use href="#Ml" x="707.5"/></g><g id="k28-14"><use href="#Ml" x="759.5"/></g><g id="k28-15"><use href="#Ml" x="811.5"/></g><g id="k28-16"><use href="#Dl" x="863.5"/></g><g id="k28-17"><use href="#Dl" x="915.5"/></g><g id="k28-18"><use href="#Dl" x="967.5"/></g></g>
<g transform="translate(0 1518)"><g id="k29-1"><use href="#Tr" x="83.5"/></g><g id="k29-2"><use href="#Tr" x="135.5"/></g><g id="k29-3"><use href="#Kr" x="187.5"/></g><g id="k29-4"><use href="#Tr" x="239.5"/></g><g id="k29-5"><use href="#Kr" x="291.5"/></g><g id="k29-6"><use href="#Tr" x="343.5"/></g><g id="k29-7"><use href="#Wr" x="395.5"/></g><g id="k29-8"><use href="#Lr" x="447.5"/></g><g id="k29-9"><use href="#Lr" x="499.5"/></g><g id="k29-10"><use href="#Lr" x="551.5"/></g><g id="k29-11"><use href="#Mr" x="603.5"/></g><g id="k29-12"><use href="#Wr" x="655.5"/></g><g id="k29-13"><use href="#Mr" x="707.5"/></g><g id="k29-14"><use href="#Mr" x="759.5"/></g><g id="k29-15"><use href="#Dr" x="811.5"/></g><g id="k29-16"><use href="#Dr" x="863.5"/></g><g id="k29-17"><use href="#Dr" x="915.5"/></g><g id="k29-18"><use href="#Dr" x="967.5"/></g></g>
<g transform="translate(0 1570)"><g id="k30-1"><use href="#Kl" x="83.5"/></g><g id="k30-2"><use href="#Tl" x="135.5"/></g><g id="k30-3"><use href="#Tl" x="187.5"/></g><g id="k30-4"><use href="#Tl" x="239.5"/></g><g id="k30-5"><use href="#Tl" x="291.5"/></g><g id="k30-6"><use href="#Tl" x="343.5"/></g><g id="k30-7"><use href="#Wl" x="395.5"/></g><g id="k30-8"><use href="#Wl" x="447.5"/></g><g id="k30-9"><use href="#Ll" x="499.5"/></g><g id="k30-10"><use href="#Ll" x="551.5"/></g><g id="k30-11"><use href="#Wl" x="603.5"/></g><g id="k30-12"><use href="#Ml" x="655.5"/></g><g id="k30-13"><use href="#Ml" x="707.5"/></g><g id="k30-14"><use href="#Ml" x="759.5"/></g><g id="k30-15"><use href="#Dl" x="811.5"/></g><g id="k30-16"><use href="#Dl" x="863.5"/></g><g id="k30-17"><use href="#Dl" x="915.5"/></g><g id="k30-18"><use href="#Dl" x="967.5"/></g></g>
<g transform="translate(0 1622)"><g id="k31-1"><use href="#Tr" x="83.5"/></g><g id="k31-2"><use href="#Tr" x="135.5"/></g><g id="k31-3"><use href="#Tr" x="187.5"/></g><g id="k31-4"><use href="#Tr" x="239.5"/></g><g id="k31-5"><use href="#Tr" x="291.5"/></g><g id="k31-6"><use href="#Tr" x="343.5"/></g><g id="k31-7"><use href="#Wr" x="395.5"/></g><g id="k31-8"><use href="#Wr" x="447.5"/></g><g id="k31-9"><use href="#Lr" x="499.5"/></g><g id="k31-10"><use href="#Lr" x="551.5"/></g><g id="k31-11"><use href="#Wr" x="603.5"/></g><g id="k31-12"><use href="#Mr" x="655.5"/></g><g id="k31-13"><use href="#Mr" x="707.5"/></g><g id="k31-14"><use href="#Mr" x="759.5"/></g><g id="k31-15"><use href="#Mr" x="811.5"/></g><g id="k31-16"><use href="#Dr" x="863.5"/></g><g id="k31-17"><use href="#Dr" x="915.5"/></g><g id="k31-18"><use href="#Dr" x="967.5"/></g></g>
<g transform="translate(0 1674)"><g id="k32-1"><use href="#Tl" x="83.5"/></g><g id="k32-2"><use href="#Tl" x="135.5"/></g><g id="k32-3"><use href="#Tl" x="187.5"/></g><g id="k32-4"><use href="#Tl" x="239.5"/></g><g id="k32-5"><use href="#Tl" x="291.5"/></g><g id="k32-6"><use href="#Tl" x="343.5"/></g><g id="k32-7"><use href="#Wl" x="395.5"/></g><g id="k32-8"><use href="#Wl" x="447.5"/></g><g id="k32-9"><use href="#Ll" x="499.5"/></g><g id="k32-10"><use href="#Ll" x="551.5"/></g><g id="k32-11"><use href="#Ll" x="603.5"/></g><g id="k32-12"><use href="#Ml" x="655.5"/></g><g id="k32-13"><use href="#Ml" x="707.5"/></g><g id="k32-14"><use href="#Ml" x="759.5"/></g><g id="k32-15"><use href="#Ml" x="811.5"/></g><g id="k32-16"><use href="#Dl" x="863.5"/></g><g id="k32-17"><use href="#Dl" x="915.5"/></g><g id="k32-18"><use href="#Dl" x="967.5"/></g></g>
<g transform="translate(0 1726)"><g id="k33-1"><use href="#Kr" x="83.5"/></g><g id="k33-2"><use href="#Tr" x="135.5"/></g><g id="k33-3"><use href="#Tr" x="187.5"/></g><g id="k33-4"><use href="#Tr" x="239.5"/></g><g id="k33-5"><use href="#Kr" x="291.5"/></g><g id="k33-6"><use href="#Tr" x="343.5"/></g><g id="k33-7"><use href="#Wr" x="395.5"/></g><g id="k33-8"><use href="#Wr" x="447.5"/></g><g id="k33-9"><use href="#Lr" x="499.5"/></g><g id="k33-10"><use href="#Lr" x="551.5"/></g><g id="k33-11"><use href="#Lr" x="603.5"/></g><g id="k33-12"><use href="#Mr" x="655.5"/></g><g id="k33-13"><use href="#Mr" x="707.5"/></g><g id="k33-14"><use href="#Mr" x="759.5"/></g><g id="k33-15"><use href="#Dr" x="811.5"/></g><g id="k33-16"><use href="#Dr" x="863.5"/></g><g id="k33-17"><use href="#Dr" x="915.5"/></g><g id="k33-18"><use href="#Dr" x="967.5"/></g></g>
</g>
<g id="tail-labels">
<text class="tl" x="35" y="66" fill="#000">A</text>
<text class="tl" x="35" y="1002" fill="#fff">D</text>
<text class="tl" x="35" y="1262" fill="#fff">D</text>
<text class="tl" x="1018" y="118" fill="#eee">B</text>
<text class="tl" x="1018" y="950" fill="#222">E</text>
<text class="tl" x="1018" y="1158" fill="#ddd">C</text>
<text class="tl" x="1018" y="1314" fill="#ddd">C</text>
<text class="tl" x="1018" y="1418" fill="#222">E</text>
<text class="tl" x="1018" y="1730" fill="#000">A</text>
</g>
<g id="row-numbers" class="n">
<g text-anchor="end">
<text x="21" y="66.5">1</text><text x="21" y="118.5">2</text><text x="21" y="170.5">3</text><text x="21" y="222.5">4</text><text x="21" y="274.5">5</text><text x="21" y="326.5">6</text><text x="21" y="378.5">7</text><text x="21" y="430.5">8</text><text x="21" y="482.5">9</text><text x="21" y="534.5">10</text><text x="21" y="586.5">11</text><text x="21" y="638.5">12</text><text x="21" y="690.5">13</text><text x="21" y="742.5">14</text><text x="21" y="794.5">15</text><text x="21" y="846.5">16</text><text x="21" y="898.5">17</text><text x="21" y="950.5">18</text><text x="21" y="1002.5">19</text><text x="21" y="1054.5">20</text><text x="21" y="1106.5">21</text><text x="21" y="1158.5">22</text><text x="21" y="1210.5">23</text><text x="21" y="1262.5">24</text><text x="21" y="1314.5">25</text><text x="21" y="1366.5">26</text><text x="21" y="1418.5">27</text><text x="21" y="1470.5">28</text><text x="21" y="1522.5">29</text><text x="21" y="1574.5">30</text><text x="21" y="1626.5">31</text><text x="21" y="1678.5">32</text><text x="21" y="1730.5">33</text>
</g>
<g>
<text x="1031" y="66.5">1</text><text x="1031" y="118.5">2</text><text x="1031" y="170.5">3</text><text x="1031" y="222.5">4</text><text x="1031" y="274.5">5</text><text x="1031" y="326.5">6</text><text x="1031" y="378.5">7</text><text x="1031" y="430.5">8</text><text x="1031" y="482.5">9</text><text x="1031" y="534.5">10</text><text x="1031" y="586.5">11</text><text x="1031" y="638.5">12</text><text x="1031" y="690.5">13</text><text x="1031" y="742.5">14</text><text x="1031" y="794.5">15</text><text x="1031" y="846.5">16</text><text x="1031" y="898.5">17</text><text x="1031" y="950.5">18</text><text x="1031" y="1002.5">19</text><text x="1031" y="1054.5">20</text><text x="1031" y="1106.5">21</text><text x="1031" y="1158.5">22</text><text x="1031" y="1210.5">23</text><text x="1031" y="1262.5">24</text><text x="1031" y="1314.5">25</text><text x="1031" y="1366.5">26</text><text x="1031" y="1418.5">27</text><text x="1031" y="1470.5">28</text><text x="1031" y="1522.5">29</text><text x="1031" y="1574.5">30</text><text x="1031" y="1626.5">31</text><text x="1031" y="1678.5">32</text><text x="1031" y="1730.5">33</text>
</g>
</g>
<text x="526" y="925" text-anchor="middle" font-family="Liberation Sans, Arial, sans-serif" font-weight="bold" font-size="15" fill="#3c3c3c" stroke="#fff" stroke-width="3" paint-order="stroke" textLength="154" lengthAdjust="spacingAndGlyphs">BRACELETBOOK.COM</text>
</svg>
